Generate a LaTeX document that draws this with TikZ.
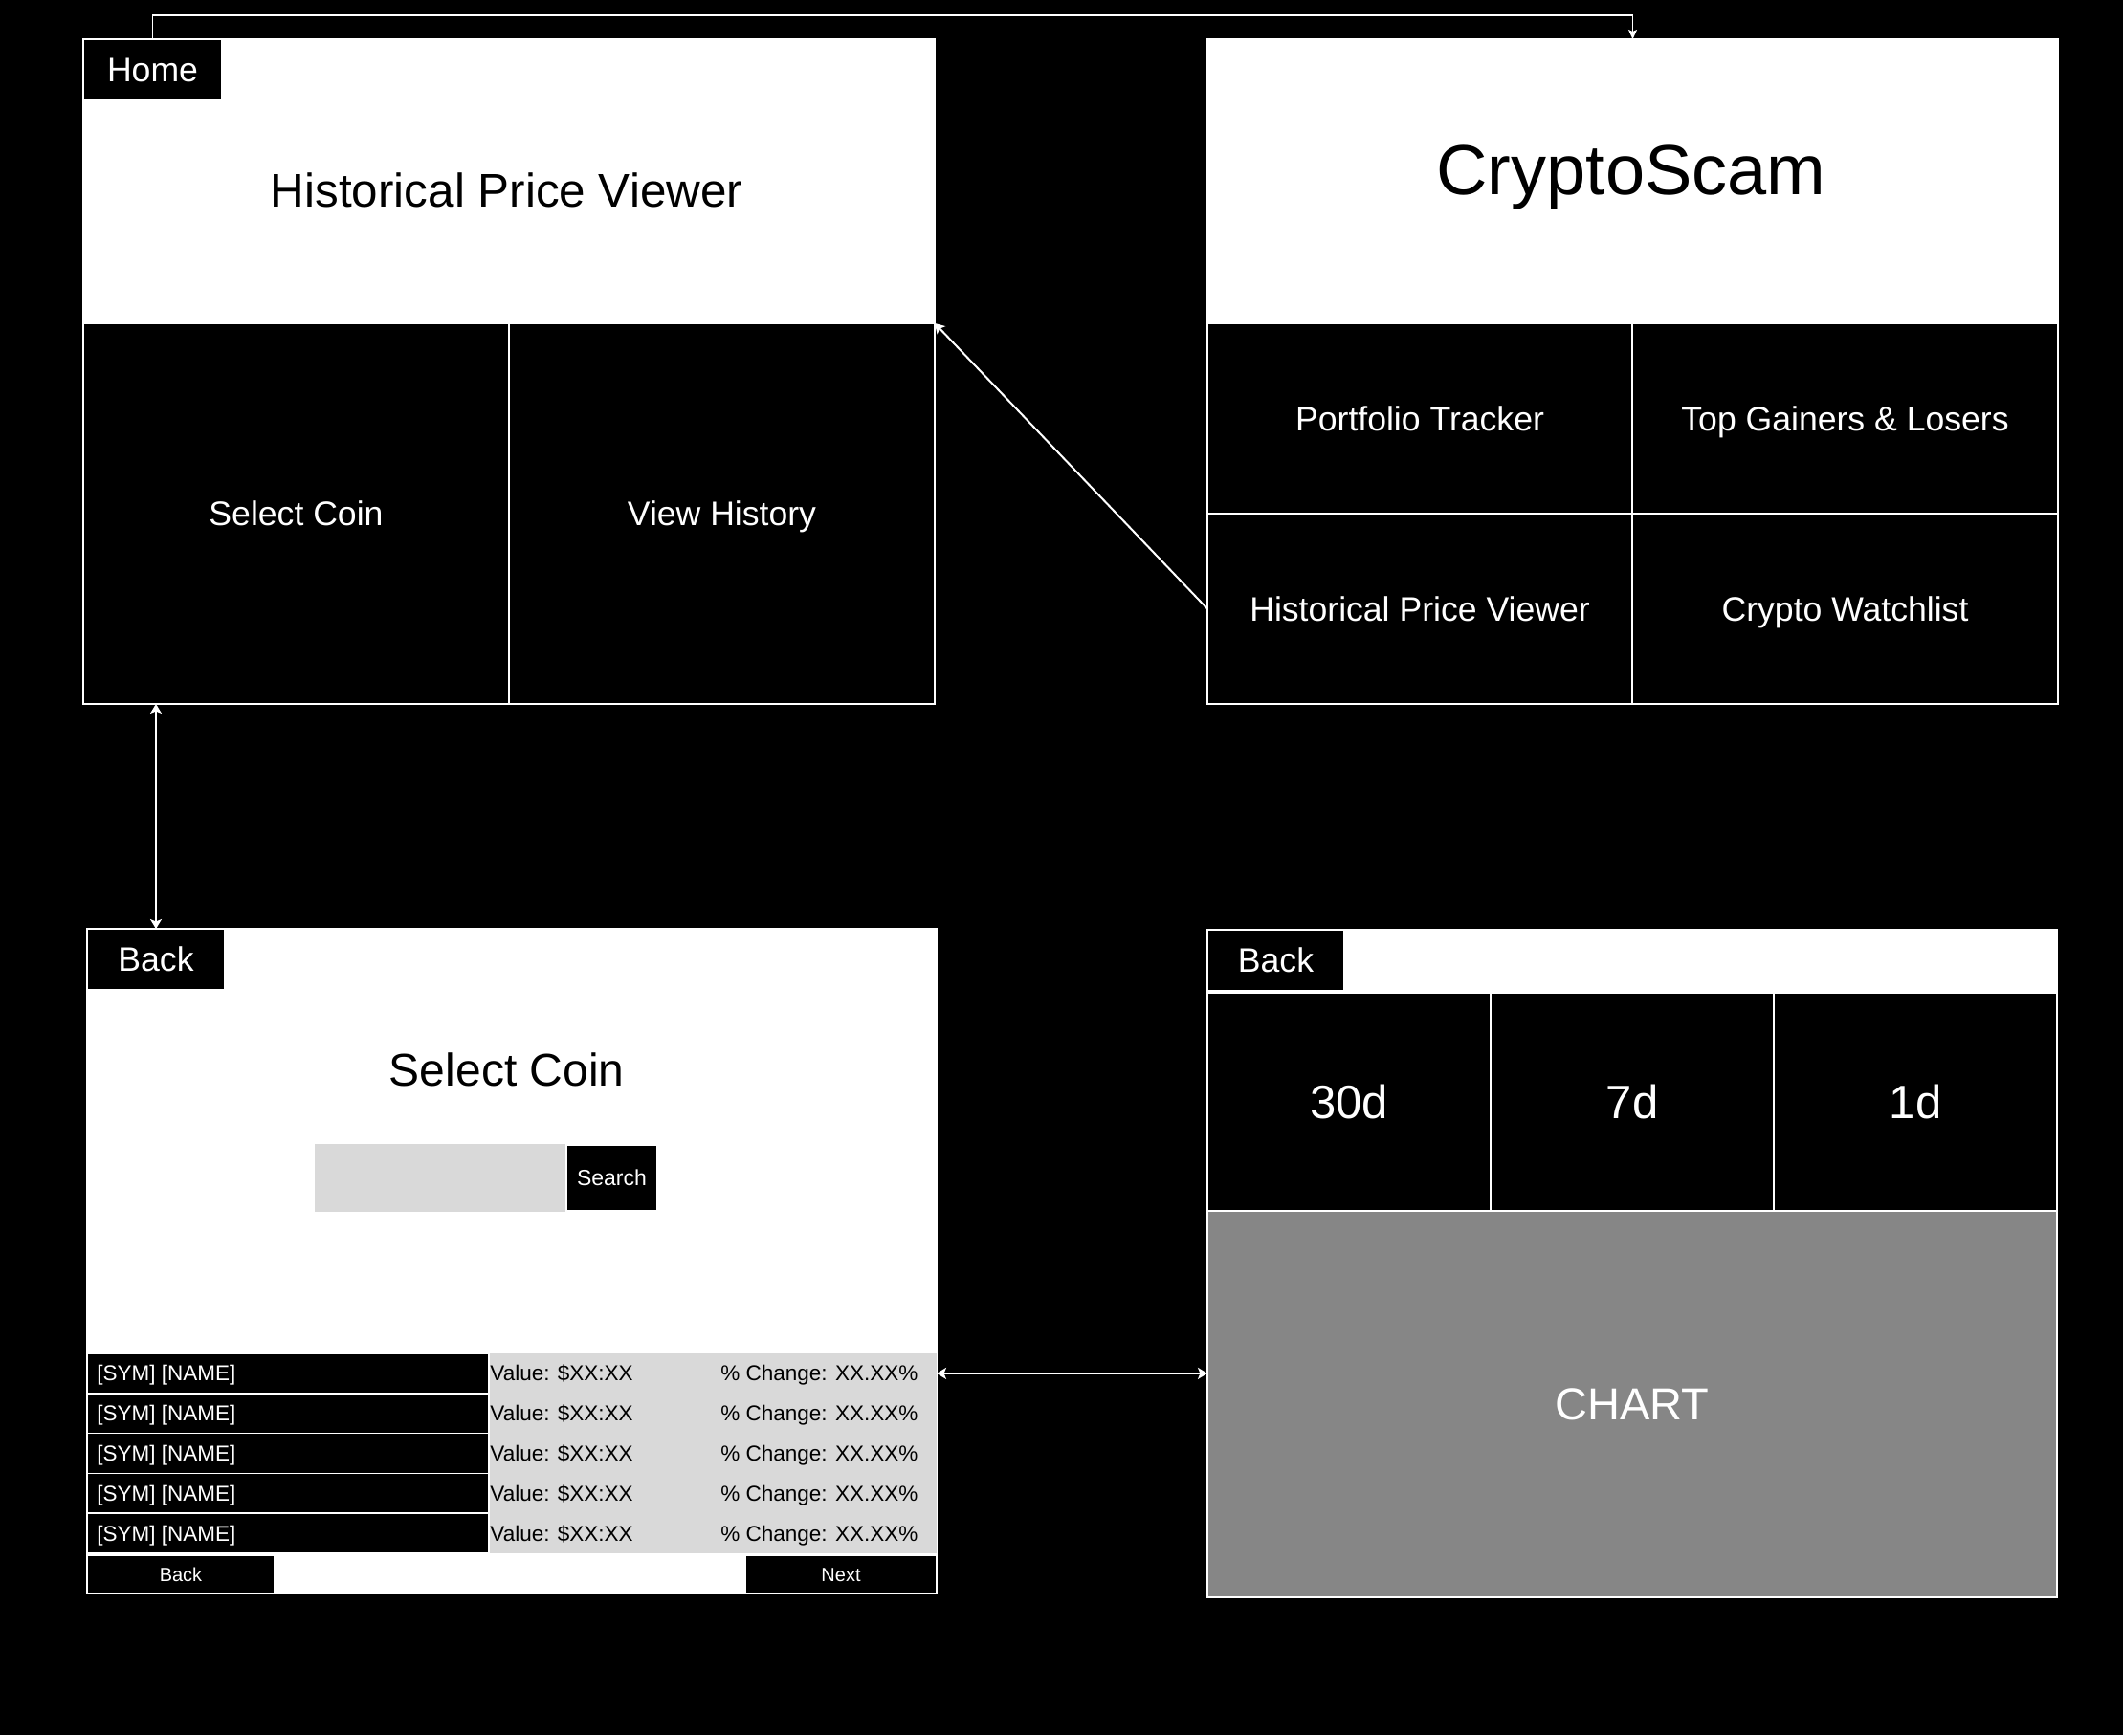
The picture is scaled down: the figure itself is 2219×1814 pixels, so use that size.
\documentclass[tikz,border=0pt]{standalone}
\usepackage{fontspec}
\setmainfont{Liberation Sans}
\usetikzlibrary{fit,arrows.meta}
\definecolor{lg}{RGB}{217,217,217}
\definecolor{chartgray}{RGB}{134,134,134}
\tikzset{
  area/.style={inner sep=0pt, outer sep=0pt, draw=white, line width=0.75pt},
  whitebox/.style={area, fill=white},
  blackbox/.style={area, fill=black},
  flat/.style={area, draw=none},
  txt/.style={anchor=base, inner sep=0pt, text=white},
  tcell/.style={txt, font=\fontsize{17.8}{20}\selectfont, yshift=-6.37pt},
  tbig/.style={txt, font=\fontsize{24.5}{28}\selectfont, yshift=-8.77pt},
  tchart/.style={txt, font=\fontsize{23.5}{28}\selectfont, yshift=-8.4pt},
  tsearch/.style={txt, font=\fontsize{11.5}{14}\selectfont, yshift=-4.12pt},
  tnav/.style={txt, font=\fontsize{10}{12}\selectfont, yshift=-3.58pt},
  rowtext/.style={inner sep=0pt, anchor=base west, font=\fontsize{11.25}{13}\selectfont},
  ttl/.style={inner sep=0pt, anchor=base},
  conn/.style={draw=white, line width=1pt},
  tipend/.style={-{Stealth[length=5pt,width=6pt,inset=1.2pt]}},
  tipboth/.style={{Stealth[length=5pt,width=6pt,inset=1.2pt]}-{Stealth[length=5pt,width=6pt,inset=1.2pt]}},
  thinend/.style={draw=white, line width=0.6pt, -{Stealth[length=5pt,width=4.5pt,inset=1pt]}},
}
\begin{document}
\begin{tikzpicture}[x=0.5pt,y=-0.5pt]
\fill[black] (0,0) rectangle (2219,1814);
\useasboundingbox (0,0) rectangle (2219,1814);

% ---------- Home screen ----------
\node[whitebox, fit={(87,41) (977,338)}] (homehead) {};
\node[blackbox, fit={(87,41) (232,105)}] (homebox) {};
\node[tcell] (homebox-t) at (homebox.center) {Home};
\node[ttl, font=\fontsize{24.7}{29}\selectfont] (hometitle) at (529.5,216.7) {Historical Price Viewer};
\node[blackbox, fit={(87,338) (532,736)}] (homesel) {};
\node[tcell] (homesel-t) at (homesel.center) {Select Coin};
\node[blackbox, fit={(532,338) (977,736)}] (homehist) {};
\node[tcell] (homehist-t) at (homehist.center) {View History};

% ---------- CryptoScam screen ----------
\node[whitebox, fit={(1262,41) (2151,338)}] (cshead) {};
\node[ttl, font=\fontsize{37}{42}\selectfont] (cstitle) at (1705,203) {CryptoScam};
\node[blackbox, fit={(1262,338) (1706,537)}] (csport) {};
\node[tcell] (csport-t) at (csport.center) {Portfolio Tracker};
\node[blackbox, fit={(1706,338) (2151,537)}] (csgain) {};
\node[tcell] (csgain-t) at (csgain.center) {Top Gainers \& Losers};
\node[blackbox, fit={(1262,537) (1706,736)}] (cshist) {};
\node[tcell] (cshist-t) at (cshist.center) {Historical Price Viewer};
\node[blackbox, fit={(1706,537) (2151,736)}] (cswatch) {};
\node[tcell] (cswatch-t) at (cswatch.center) {Crypto Watchlist};

% ---------- Select Coin screen ----------
\node[whitebox, fit={(91,971) (979,1666)}] (sel) {};
\node[blackbox, fit={(91,971) (235,1035)}] (selback) {};
\node[tcell] (selback-t) at (selback.center) {Back};
\node[ttl, font=\fontsize{24}{28}\selectfont] (seltitle) at (529.7,1135) {Select Coin};
\node[flat, fill=lg, fit={(329,1196) (591,1267)}] (field) {};
\node[blackbox, fit={(592,1197) (687,1266)}] (searchbtn) {};
\node[tsearch] (searchbtn-t) at (searchbtn.center) {Search};
\node[flat, fill=lg, fit={(511,1415) (979,1624)}] (listbg) {};
\foreach \i in {0,...,4}{
  \pgfmathsetmacro{\rt}{1415+41.8*\i}
  \pgfmathsetmacro{\rb}{\rt+41.8}
  \pgfmathsetmacro{\bl}{\rt+20.9+8}
  \node[blackbox, fit={(91,\rt) (511,\rb)}] (sym\i) {};
  \node[rowtext, text=white] (symt\i) at (101,\bl) {[SYM] [NAME]};
  \node[rowtext] (val\i) at (512,\bl) {Value: \$XX:XX};
  \node[rowtext] (chg\i) at (753,\bl) {\% Change: XX.XX\%};
}
\node[blackbox, fit={(91,1626) (287,1666)}] (navback) {};
\node[tnav] (navback-t) at (navback.center) {Back};
\node[blackbox, fit={(779,1626) (979,1666)}] (navnext) {};
\node[tnav] (navnext-t) at (navnext.center) {Next};

% ---------- Chart screen ----------
\node[whitebox, fit={(1262,972) (2150,1038)}] (chhead) {};
\node[blackbox, fit={(1262,972) (1405,1036)}] (chback) {};
\node[tcell] (chback-t) at (chback.center) {Back};
\node[blackbox, fit={(1262,1038) (1558,1266)}] (d30) {};
\node[tbig] (d30-t) at (d30.center) {30d};
\node[blackbox, fit={(1558,1038) (1854,1266)}] (d7) {};
\node[tbig] (d7-t) at (d7.center) {7d};
\node[blackbox, fit={(1854,1038) (2150,1266)}] (d1) {};
\node[tbig] (d1-t) at (d1.center) {1d};
\node[area, fill=chartgray, fit={(1262,1266) (2150,1670)}] (chart) {};
\node[tchart] (chart-t) at (chart.center) {CHART};

% ---------- Connectors ----------
\draw[thinend] (homebox.north) -- ++(0,-25) -| (cshead.north);
\draw[conn, tipend] (cshist.west) -- (homehead.south east);
\draw[conn, tipboth] (selback.north) -- (selback.north |- homesel.south);
\draw[conn, tipboth] (sym0 -| sel.east) -- (sym0 -| chart.west);
\end{tikzpicture}
\end{document}
